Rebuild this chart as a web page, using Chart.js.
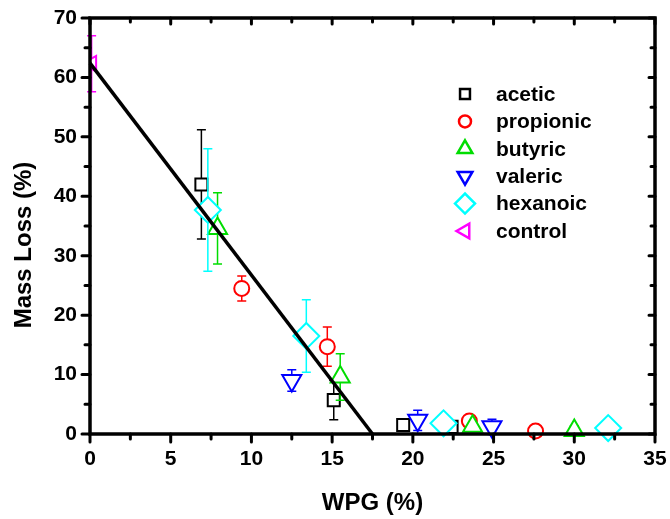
<!DOCTYPE html>
<html>
<head>
<meta charset="utf-8">
<script src="https://cdn.jsdelivr.net/npm/chart.js@4/dist/chart.umd.min.js"></script>
<style>
  html, body { margin: 0; padding: 0; background: #fff; }
  #wrap { width: 670px; height: 519px; }
</style>
</head>
<body>
<div id="wrap"><canvas id="massChart" width="670" height="519"></canvas></div>
<script>
// WPG (%) vs mass loss (%), err = +/- error bar
const aceticX = [6.9, 15.1, 19.4, 22.4];
const aceticY = [42.0, 5.7, 1.5, 1.2];
const aceticErr = [9.2, 3.3, 0.5, 0.8];

const propionicX = [9.4, 14.7, 23.5, 27.6];
const propionicY = [24.5, 14.7, 2.2, 0.5];
const propionicErr = [2.1, 3.3, 0.5, 0.6];

const butyricX = [7.9, 15.5, 23.7, 30.0];
const butyricY = [34.6, 9.6, 1.3, 0.6];
const butyricErr = [6.0, 3.9, 0.6, 0.8];

const valericX = [12.5, 20.3, 24.9];
const valericY = [9.0, 2.3, 1.2];
const valericErr = [1.8, 1.7, 1.3];

const hexanoicX = [7.3, 13.4, 21.9, 32.1];
const hexanoicY = [37.7, 16.5, 1.8, 1.0];
const hexanoicErr = [10.3, 6.1, 0.6, 0.8];

const controlX = [0.1];
const controlY = [62.3];
const controlErr = [4.7];

// linear fit line
const fitX = [0, 17.5];
const fitY = [62.4, 0];

const xTickValues = [0, 5, 10, 15, 20, 25, 30, 35];
const yTickValues = [0, 10, 20, 30, 40, 50, 60, 70];

const xTitle = 'WPG (%)';
const yTitle = 'Mass Loss (%)';

const FONT = '"Liberation Sans", Arial, Helvetica, sans-serif';

function points(xs, ys) {
    return xs.map((x, i) => ({ x: x, y: ys[i] }));
}

function series(label, xs, ys, err, color, style, radius, rotation, order, legendRadius) {
    return {
        label: label,
        data: points(xs, ys),
        err: err,
        borderColor: color,
        backgroundColor: '#fff',
        pointStyle: style,
        pointRadius: radius,
        pointRotation: rotation,
        pointBorderWidth: 2,
        pointHoverRadius: radius,
        showLine: false,
        clip: false,
        order: order,
        legendRadius: legendRadius
    };
}

const controlSeries = series('control', controlX, controlY, controlErr, '#ff00ff', 'triangle', 9, -90, 1, 8.5);
controlSeries.clip = 0; // sits on the y axis, clipped by the frame

const datasets = [
    series('acetic', aceticX, aceticY, aceticErr, '#000000', 'rect', 8.5, 0, 6, 7),
    series('propionic', propionicX, propionicY, propionicErr, '#ff0000', 'circle', 7.5, 0, 5, 6),
    series('butyric', butyricX, butyricY, butyricErr, '#00dd00', 'triangle', 11, 0, 4, 8.5),
    series('valeric', valericX, valericY, valericErr, '#0000ff', 'triangle', 11, 180, 3, 8.5),
    series('hexanoic', hexanoicX, hexanoicY, hexanoicErr, '#00ffff', 'rectRot', 13, 0, 2, 10),
    controlSeries,
    {
        label: 'fit',
        data: points(fitX, fitY),
        showLine: true,
        borderColor: '#000',
        borderWidth: 3.5,
        pointRadius: 0,
        clip: false,
        order: 0
    }
];

// error bars, frame with ticks, axis titles and legend
const decor = {
    id: 'decor',
    beforeDatasetDraw(chart, args) {
        const ds = chart.data.datasets[args.index];
        if (!ds.err) return;
        const ctx = chart.ctx, xs = chart.scales.x, ys = chart.scales.y;
        ctx.save();
        ctx.strokeStyle = ds.borderColor;
        ctx.lineWidth = 1.5;
        ds.data.forEach((p, i) => {
            const e = ds.err[i];
            const px = xs.getPixelForValue(p.x);
            const top = ys.getPixelForValue(p.y + e);
            const bot = ys.getPixelForValue(p.y - e);
            ctx.beginPath();
            ctx.moveTo(px, top); ctx.lineTo(px, bot);
            ctx.moveTo(px - 4.5, top); ctx.lineTo(px + 4.5, top);
            ctx.moveTo(px - 4.5, bot); ctx.lineTo(px + 4.5, bot);
            ctx.stroke();
        });
        ctx.restore();
    },
    afterDraw(chart) {
        const ctx = chart.ctx, a = chart.chartArea;
        const xs = chart.scales.x, ys = chart.scales.y;
        ctx.save();
        ctx.strokeStyle = '#000';
        ctx.lineWidth = 3.5;
        ctx.lineCap = 'square';
        ctx.strokeRect(a.left, a.top, a.right - a.left, a.bottom - a.top);

        ctx.lineWidth = 3;
        ctx.lineCap = 'round';
        ctx.beginPath();
        for (let v = 0; v <= 35; v += 2.5) {
            const px = xs.getPixelForValue(v);
            const major = v % 5 === 0;
            const down = major ? 8 : 5, inside = major ? 6 : 4;
            ctx.moveTo(px, a.bottom); ctx.lineTo(px, a.bottom + down);
            ctx.moveTo(px, a.top); ctx.lineTo(px, a.top + inside);
        }
        for (let v = 0; v <= 70; v += 5) {
            const py = ys.getPixelForValue(v);
            const major = v % 10 === 0;
            const out = major ? 8 : 5, inside = major ? 6 : 4;
            ctx.moveTo(a.left, py); ctx.lineTo(a.left - out, py);
            ctx.moveTo(a.right, py); ctx.lineTo(a.right - inside, py);
        }
        ctx.stroke();

        // axis titles
        ctx.fillStyle = '#000';
        ctx.font = 'bold 24px ' + FONT;
        ctx.textAlign = 'center';
        ctx.textBaseline = 'alphabetic';
        ctx.fillText(xTitle, (a.left + a.right) / 2, 510);
        ctx.save();
        ctx.translate(31, 245);
        ctx.rotate(-Math.PI / 2);
        ctx.fillText(yTitle, 0, 0);
        ctx.restore();

        // legend
        const rows = chart.data.datasets.filter(d => d.err);
        ctx.font = 'bold 21px ' + FONT;
        ctx.textAlign = 'left';
        ctx.textBaseline = 'middle';
        rows.forEach((d, i) => {
            const y = 94 + i * 27.4;
            ctx.strokeStyle = d.borderColor;
            ctx.fillStyle = '#fff';
            ctx.lineWidth = 2.5;
            Chart.helpers.drawPoint(ctx, {
                pointStyle: d.pointStyle,
                rotation: d.pointRotation,
                radius: d.legendRadius,
                borderWidth: 2.5
            }, 465, y);
            ctx.fillStyle = '#000';
            ctx.fillText(d.label, 496, y + 1);
        });
        ctx.restore();
    }
};

const tickFont = { family: FONT, size: 21, weight: 'bold' };

new Chart(document.getElementById('massChart').getContext('2d'), {
    type: 'scatter',
    data: { datasets: datasets },
    options: {
        responsive: false,
        animation: false,
        events: [],
        layout: { padding: { left: 0, right: 14, top: 18, bottom: 0 } },
        plugins: {
            legend: { display: false },
            tooltip: { enabled: false }
        },
        scales: {
            x: {
                type: 'linear',
                min: 0,
                max: 35,
                afterBuildTicks: axis => { axis.ticks = xTickValues.map(v => ({ value: v })); },
                afterFit: axis => {
                    axis.height = 85;
                    axis.paddingLeft = 0;
                    axis.paddingRight = 0;
                },
                grid: { display: false, drawTicks: false },
                border: { display: false },
                ticks: { color: '#000', font: tickFont, padding: 13, maxRotation: 0 }
            },
            y: {
                type: 'linear',
                min: 0,
                max: 70,
                afterBuildTicks: axis => { axis.ticks = yTickValues.map(v => ({ value: v })); },
                afterFit: axis => {
                    axis.width = 90;
                    axis.paddingTop = 0;
                    axis.paddingBottom = 0;
                },
                grid: { display: false, drawTicks: false },
                border: { display: false },
                ticks: { color: '#000', font: tickFont, padding: 13 }
            }
        }
    },
    plugins: [decor]
});
</script>
</body>
</html>
